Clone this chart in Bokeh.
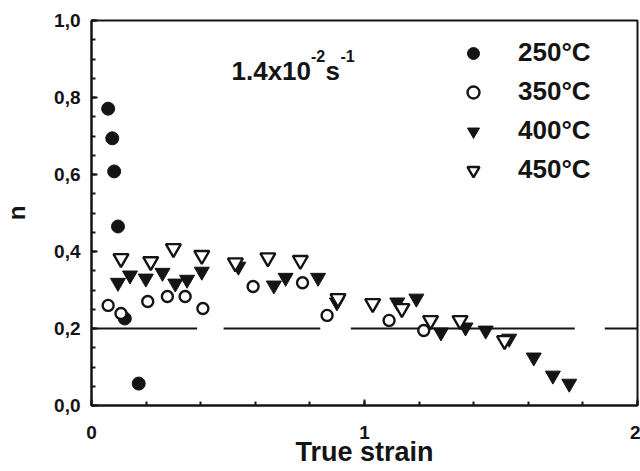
from bokeh.plotting import figure
from bokeh.models import (FixedTicker, Range1d, Label, Legend, LegendItem)
from bokeh.embed import file_html
from bokeh.resources import INLINE

# ---- data ----
strain_250 = [0.061, 0.076, 0.083, 0.097, 0.122, 0.173]
n_250 = [0.771, 0.694, 0.608, 0.465, 0.226, 0.057]

strain_350 = [0.061, 0.108, 0.206, 0.278, 0.343, 0.408, 0.592, 0.773, 0.863, 1.09, 1.217]
n_350 = [0.260, 0.239, 0.270, 0.283, 0.283, 0.252, 0.309, 0.319, 0.234, 0.221, 0.195]

strain_400 = [0.097, 0.141, 0.199, 0.260, 0.307, 0.350, 0.404, 0.538, 0.668, 0.711, 0.830,
              0.899, 1.12, 1.19, 1.28, 1.37, 1.444, 1.53, 1.62, 1.69, 1.75]
n_400 = [0.319, 0.338, 0.330, 0.345, 0.317, 0.327, 0.348, 0.361, 0.312, 0.332, 0.332,
         0.268, 0.268, 0.278, 0.190, 0.203, 0.195, 0.174, 0.125, 0.078, 0.057]

strain_450 = [0.108, 0.217, 0.300, 0.404, 0.527, 0.646, 0.765, 0.903, 1.03, 1.137, 1.242, 1.35, 1.513]
n_450 = [0.382, 0.374, 0.408, 0.390, 0.371, 0.384, 0.377, 0.278, 0.265, 0.252, 0.221, 0.221, 0.169]

# reference level n = 0.2 drawn as long dashes
ref_n = 0.2
ref_seg_start = [0.0, 0.484, 0.95, 1.88]
ref_seg_end = [0.387, 0.838, 1.77, 2.0]

y_tick_values = [0.0, 0.2, 0.4, 0.6, 0.8, 1.0]
y_tick_labels = ["0,0", "0,2", "0,4", "0,6", "0,8", "1,0"]
y_minor = [i * 0.05 for i in range(21)]
x_tick_values = [0, 1, 2]
x_tick_labels = ["0", "1", "2"]
x_minor = [i * 0.2 for i in range(11)]

x_title = "True strain"
y_title = "n"
series_labels = ["250°C", "350°C", "400°C", "450°C"]
rate_main, rate_exp, rate_unit, rate_unit_exp = "1.4x10", "-2", "s", "-1"

FONT = "Liberation Sans"
INK = "#141414"

p = figure(width=640, height=471, output_backend="svg", toolbar_location=None,
           x_range=Range1d(0, 2), y_range=Range1d(0, 1.0),
           min_border_left=83, min_border_right=3, min_border_top=20, min_border_bottom=66)
p.background_fill_color = "white"
p.border_fill_color = "white"
p.grid.visible = False
p.outline_line_color = INK
p.outline_line_width = 2

# axes
for ax in (p.xaxis[0], p.yaxis[0]):
    ax.axis_line_width = 2
    ax.axis_line_color = INK
    ax.major_tick_in = 6
    ax.major_tick_out = 0
    ax.minor_tick_in = 4
    ax.minor_tick_out = 0
    ax.major_tick_line_color = INK
    ax.minor_tick_line_color = INK
    ax.major_tick_line_width = 2
    ax.minor_tick_line_width = 2
    ax.major_label_text_font = FONT
    ax.major_label_text_font_style = "bold"
    ax.major_label_text_font_size = "19px"
    ax.major_label_text_color = INK
    ax.axis_label_text_font = FONT
    ax.axis_label_text_font_style = "bold"
    ax.axis_label_text_color = INK

p.yaxis.ticker = FixedTicker(ticks=y_tick_values, minor_ticks=y_minor)
p.yaxis.major_label_overrides = dict(zip(y_tick_values, y_tick_labels))
p.yaxis.major_label_standoff = 11
p.yaxis.axis_label = y_title
p.yaxis.axis_label_text_font_size = "24px"
p.yaxis.axis_label_standoff = 21

p.xaxis.ticker = FixedTicker(ticks=x_tick_values, minor_ticks=x_minor)
p.xaxis.major_label_overrides = dict(zip(x_tick_values, x_tick_labels))
p.xaxis.major_label_standoff = 20
p.xaxis.axis_label = x_title
p.xaxis.axis_label_text_font_size = "27px"
p.xaxis.axis_label_standoff = -5

# reference line
p.segment(x0=ref_seg_start, y0=[ref_n] * len(ref_seg_start), x1=ref_seg_end,
          y1=[ref_n] * len(ref_seg_end), line_color=INK, line_width=2)

r250 = p.scatter(strain_250, n_250, marker="circle", size=13, fill_color=INK, line_color=INK)
r350 = p.scatter(strain_350, n_350, marker="circle", size=11, fill_color="white",
                 line_color=INK, line_width=2.4)
r400 = p.scatter(strain_400, n_400, marker="inverted_triangle", size=15, fill_color=INK,
                 line_color=INK)
r450 = p.scatter(strain_450, n_450, marker="inverted_triangle", size=15, fill_color="white",
                 line_color=INK, line_width=2.4)

legend = Legend(items=[LegendItem(label=lab, renderers=[r])
                       for lab, r in zip(series_labels, [r250, r350, r400, r450])],
                location=(367, 220), orientation="vertical",
                glyph_width=30, glyph_height=30, label_height=30, spacing=8,
                label_standoff=30, padding=0, margin=0,
                border_line_color=None, background_fill_alpha=0,
                label_text_font=FONT, label_text_font_style="bold",
                label_text_font_size="26px", label_text_color=INK)
p.add_layout(legend)

# strain-rate annotation
def lab(x, y, t, size):
    return Label(x=x, y=y, x_units="screen", y_units="screen", text=t,
                 text_font=FONT, text_font_style="bold", text_font_size=size,
                 text_color=INK, text_baseline="alphabetic", text_align="left")

p.add_layout(lab(140, 335, rate_main, "26px"))
p.add_layout(lab(219.5, 350, rate_exp, "16px"))
p.add_layout(lab(234, 335, rate_unit, "26px"))
p.add_layout(lab(249, 350, rate_unit_exp, "16px"))

open("out.html", "w").write(file_html(p, INLINE))
